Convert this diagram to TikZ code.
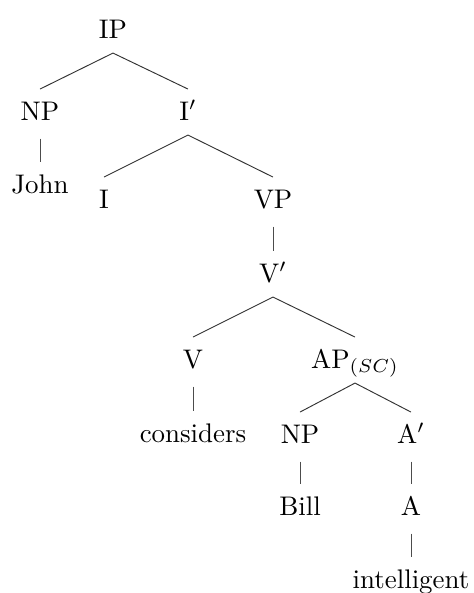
\documentclass[tikz,border=0pt]{standalone}
\begin{document}
\begin{tikzpicture}[x=0.3717pt, y=-0.3717pt,
  cat/.style={anchor=base, text height=7pt, text depth=1.1pt, inner xsep=1pt, inner ysep=4.3pt},
  branch/.style={line width=0.35pt, draw=black!80},
  unary/.style={line width=0.3pt, draw=black!70}]
\useasboundingbox (0,0) rectangle (474,593);

% categories and words, placed by their baselines
\node[cat] (ip)    at (113,38)  {IP};
\node[cat] (np)    at (40,120)  {NP};
\node[cat] (ibar)  at (188,120) {I$'$};
\node[cat] (john)  at (40,193)  {John};
\node[cat] (i)     at (104,208) {I};
\node[cat] (vp)    at (273,208) {VP};
\node[cat] (vbar)  at (273,282) {V$'$};
\node[cat] (v)     at (193,368) {V};
\node[cat] (ap)    at (355,368) {AP$_{(SC)}$};
\node[cat] (cons)  at (193,442) {considers};
\node[cat] (np2)   at (300,443) {NP};
\node[cat] (abar)  at (411,443) {A$'$};
\node[cat] (bill)  at (300,515) {Bill};
\node[cat] (a)     at (411,515) {A};
\node[cat] (intel) at (411,588) {intelligent};

% branching edges
\draw[branch] (ip.south) -- (np.north);
\draw[branch] (ip.south) -- (ibar.north);
\draw[branch] (ibar.south) -- (i.north);
\draw[branch] (ibar.south) -- (vp.north);
\draw[branch] (vbar.south) -- (v.north);
\draw[branch] (vbar.south) -- (ap.north);
\draw[branch] (ap.south) -- (np2.north);
\draw[branch] (ap.south) -- (abar.north);

% non-branching edges
\draw[unary] ([yshift=-1.3pt]np.south) -- (john.north);
\draw[unary] ([yshift=-1.3pt]vp.south) -- (vbar.north);
\draw[unary] ([yshift=-1.3pt]v.south) -- (cons.north);
\draw[unary] ([yshift=-1.3pt]np2.south) -- (bill.north);
\draw[unary] ([yshift=-1.3pt]abar.south) -- (a.north);
\draw[unary] ([yshift=-1.3pt]a.south) -- (intel.north);
\end{tikzpicture}
\end{document}
